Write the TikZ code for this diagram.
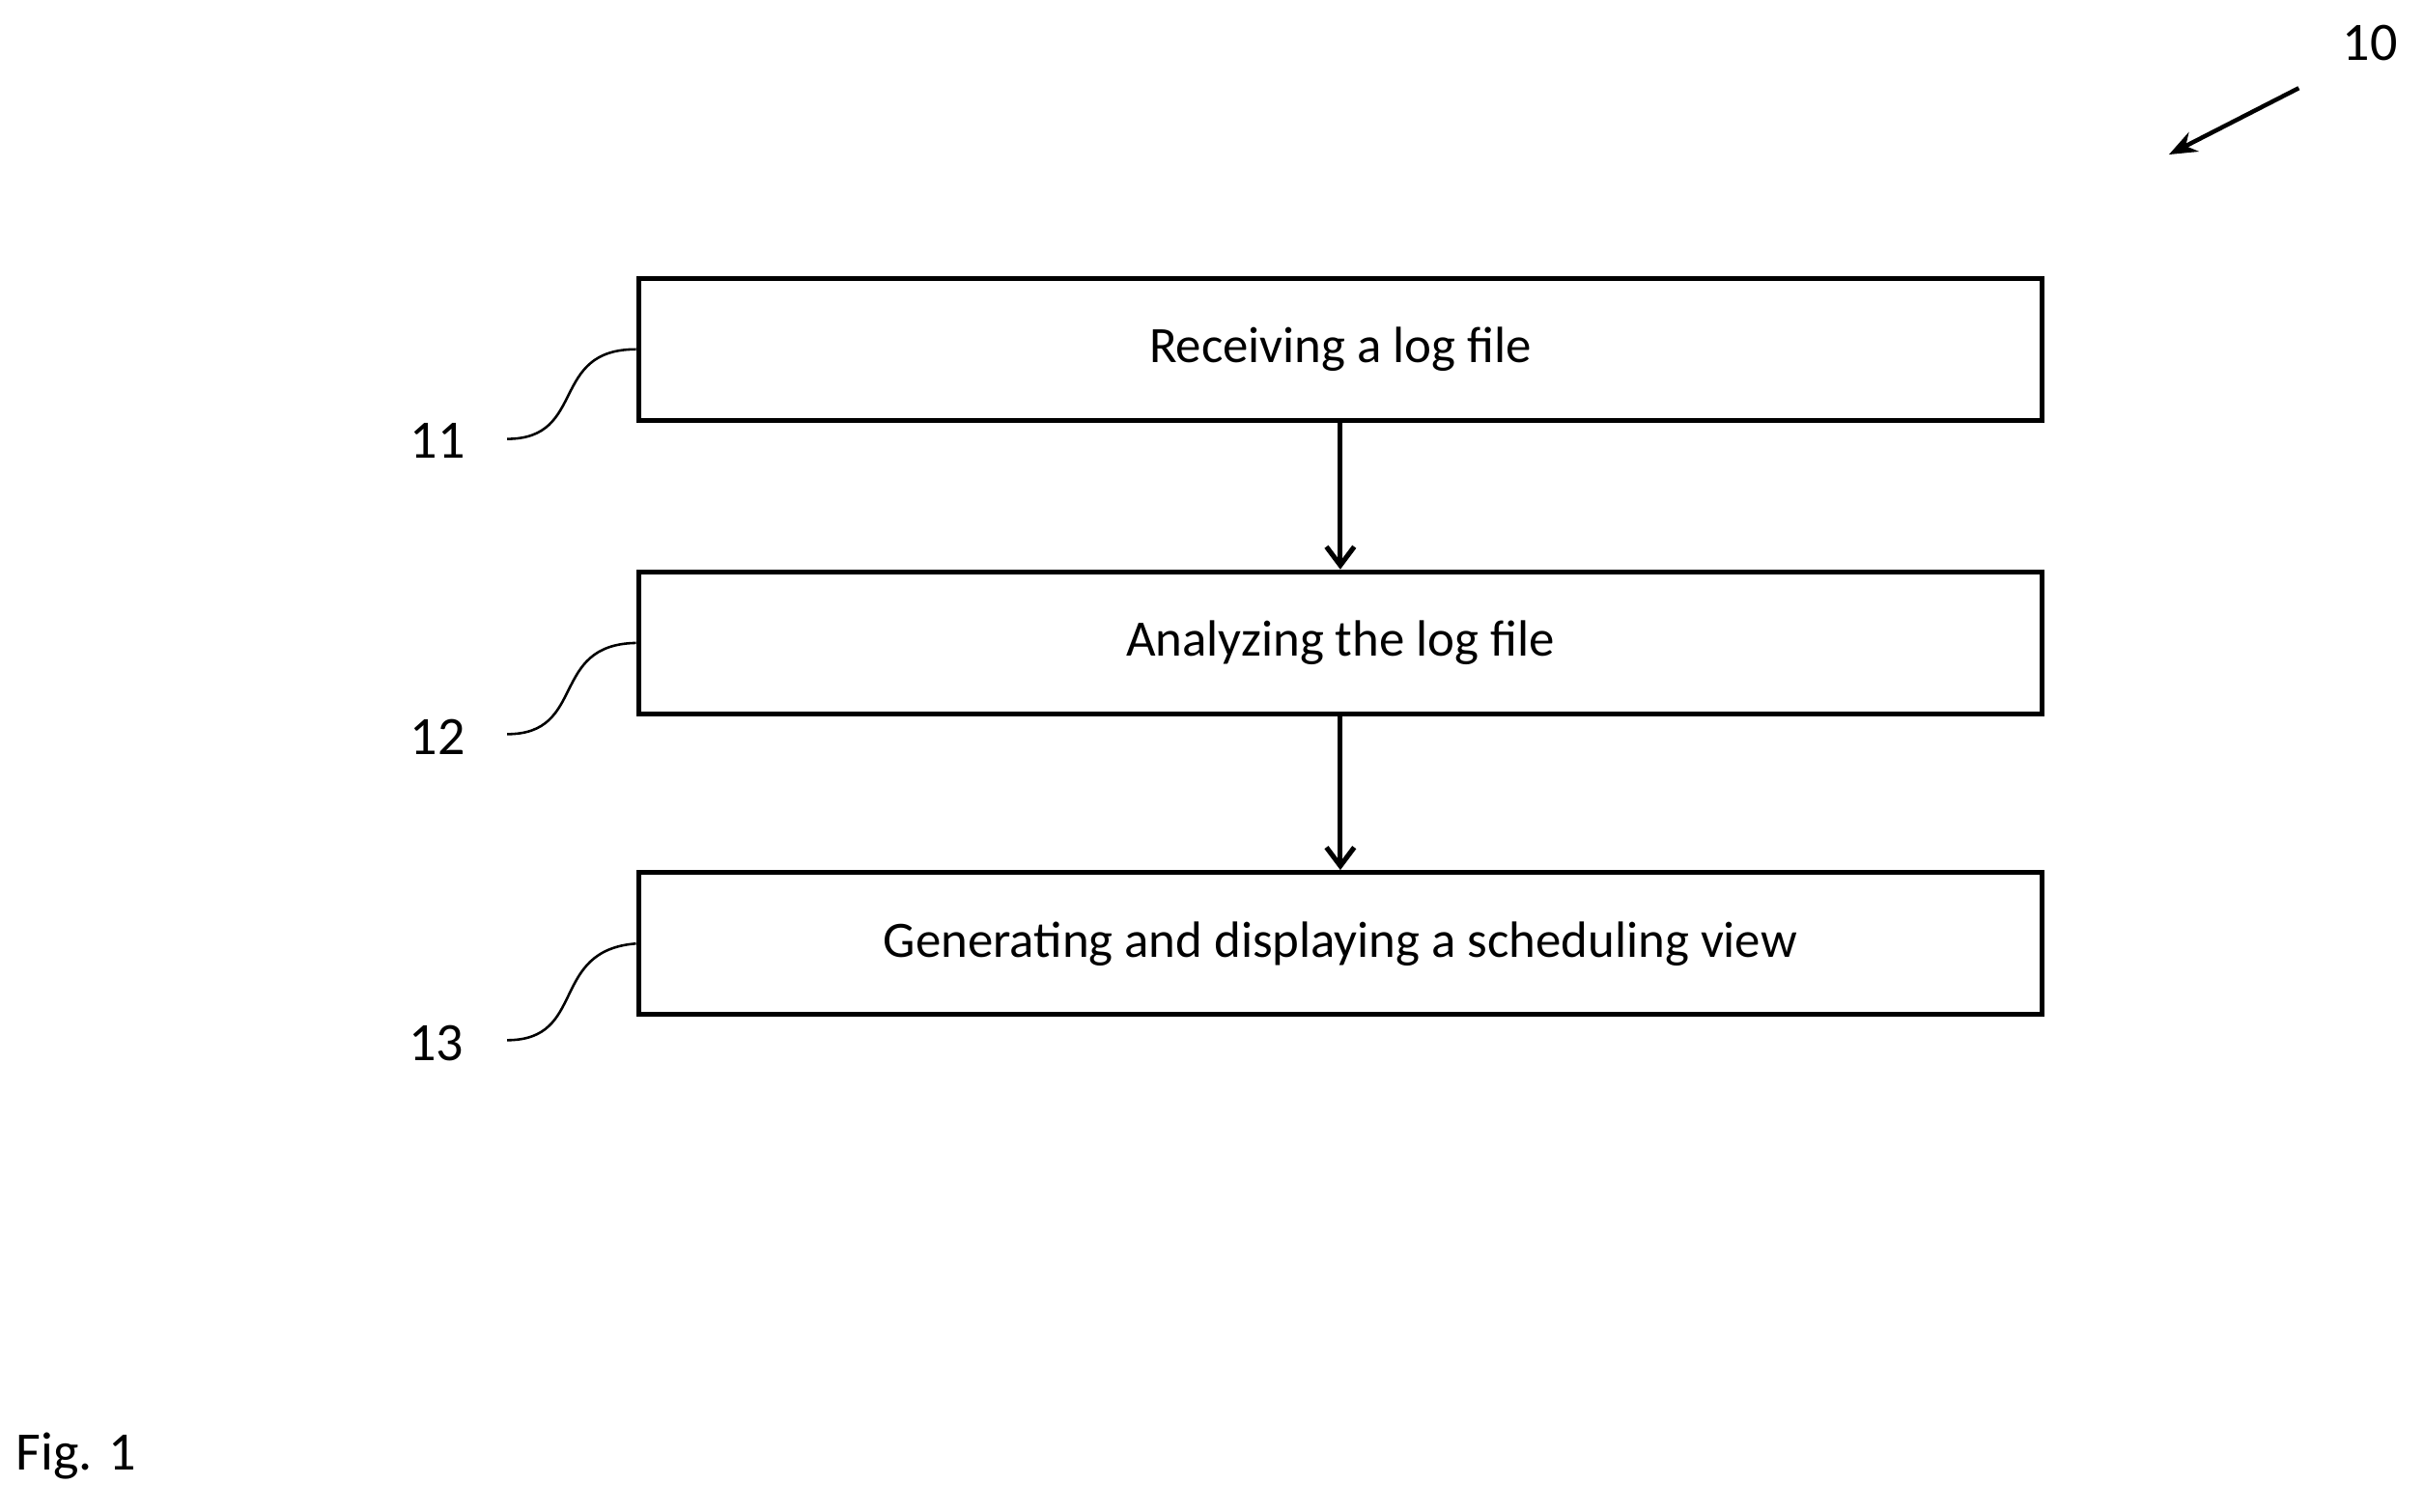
\documentclass[tikz,border=0pt]{standalone}
\usepackage{fontspec}
\setmainfont{Carlito}
\usetikzlibrary{arrows.meta}
\begin{document}
\begin{tikzpicture}[x=0.5pt,y=-0.5pt,
  box/.style={draw,line width=1.6pt,minimum width=454pt,minimum height=46pt,inner sep=0pt,font=\fontsize{16.5}{19}\selectfont},
  lbl/.style={font=\fontsize{17.5}{20}\selectfont,inner sep=0pt},
  arr/.style={line width=1.6pt,-{Straight Barb[length=6pt,width=9pt]}},
  lead/.style={line width=0.8pt}]
\useasboundingbox (0,0) rectangle (1568,978);
\node[box] (b1) at (867,226) {Receiving a log file};
\node[box] (b2) at (867,416) {Analyzing the log file};
\node[box] (b3) at (867,610.5) {Generating and displaying a scheduling view};
\draw[arr] (b1) -- (b2);
\draw[arr] (b2) -- (b3);
\node[lbl] (l11) at (283,285) {11};
\node[lbl] (l12) at (283,477) {12};
\node[lbl] (l13) at (282,675) {13};
\foreach \n/\b/\y in {l11/b1/284,l12/b2/475,l13/b3/673}{
  \coordinate (s\n) at (328,\y);
  \draw[lead] (s\n) .. controls (380,\y) and (355,\y-58) .. (\b.west);
}
\node[lbl] (l10) at (1533,28) {10};
\coordinate (a10) at (1487,57);
\coordinate (t10) at (1403,100);
\draw[line width=1.4pt,-{Stealth[length=9pt,width=7pt]}] (a10) -- (t10);
\node[lbl,anchor=west] (fig) at (10,942) {Fig. 1};
\end{tikzpicture}
\end{document}
